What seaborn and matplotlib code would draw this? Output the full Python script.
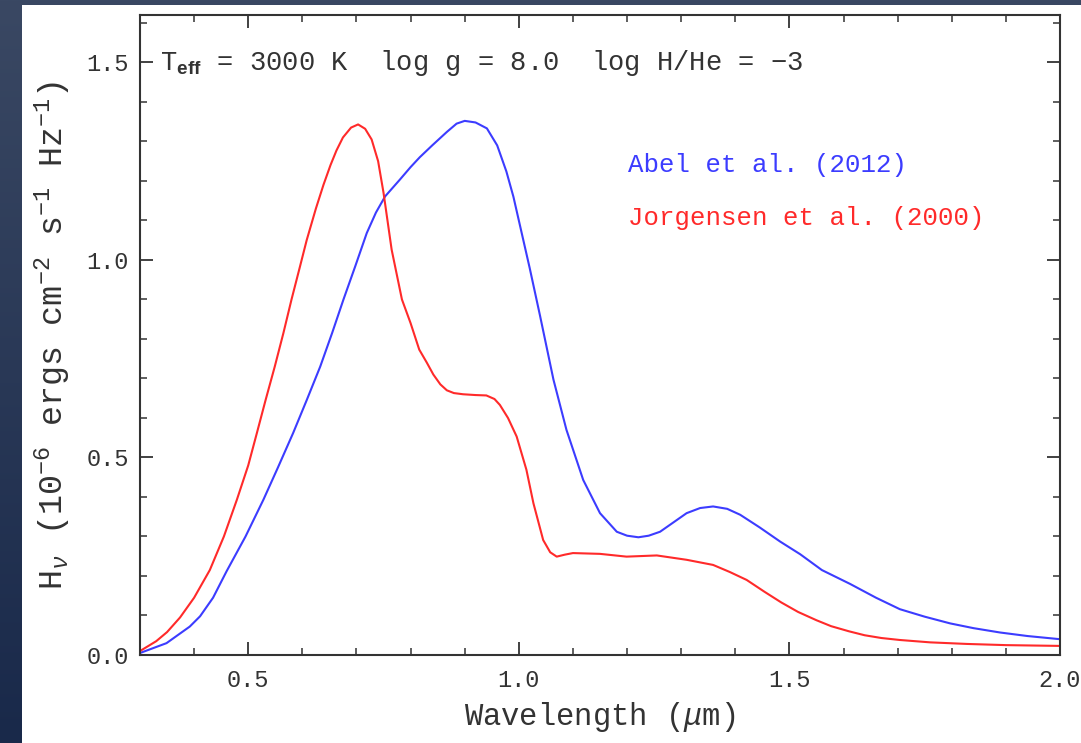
import numpy as np
import pandas as pd
import matplotlib
matplotlib.use("Agg")
import matplotlib.pyplot as plt
import seaborn as sns
from matplotlib.ticker import MultipleLocator
from matplotlib.colors import LinearSegmentedColormap

# ---- data ----
jorg_wave = [0.300, 0.330, 0.350, 0.374, 0.400, 0.429, 0.455, 0.479, 0.500, 0.516,
             0.532, 0.549, 0.565, 0.580, 0.595, 0.608, 0.625, 0.639, 0.652, 0.663,
             0.675, 0.690, 0.703, 0.716, 0.728, 0.740, 0.750, 0.765, 0.784, 0.800,
             0.816, 0.830, 0.842, 0.855, 0.867, 0.880, 0.897, 0.920, 0.940, 0.955,
             0.965, 0.980, 0.996, 1.014, 1.027, 1.045, 1.058, 1.070, 1.085, 1.100,
             1.150, 1.199, 1.255, 1.310, 1.359, 1.390, 1.421, 1.454, 1.485, 1.516,
             1.550, 1.577, 1.610, 1.639, 1.670, 1.704, 1.760, 1.828, 1.900, 2.000]
jorg_flux = [0.010, 0.035, 0.058, 0.095, 0.145, 0.215, 0.300, 0.393, 0.480, 0.562,
             0.645, 0.730, 0.815, 0.900, 0.980, 1.050, 1.130, 1.190, 1.240, 1.277,
             1.310, 1.335, 1.343, 1.332, 1.305, 1.250, 1.170, 1.026, 0.900, 0.840,
             0.773, 0.740, 0.710, 0.685, 0.670, 0.663, 0.660, 0.658, 0.657, 0.648,
             0.633, 0.600, 0.553, 0.469, 0.384, 0.291, 0.260, 0.249, 0.254, 0.258,
             0.256, 0.249, 0.252, 0.241, 0.228, 0.210, 0.190, 0.160, 0.133, 0.109,
             0.088, 0.073, 0.060, 0.050, 0.043, 0.038, 0.032, 0.028, 0.025, 0.023]

abel_wave = [0.300, 0.349, 0.392, 0.411, 0.435, 0.460, 0.495, 0.528, 0.555, 0.583,
             0.608, 0.633, 0.655, 0.676, 0.698, 0.719, 0.736, 0.753, 0.780, 0.800,
             0.817, 0.840, 0.867, 0.885, 0.900, 0.920, 0.941, 0.960, 0.977, 0.990,
             1.002, 1.020, 1.039, 1.064, 1.088, 1.119, 1.150, 1.181, 1.200, 1.221,
             1.240, 1.261, 1.285, 1.310, 1.335, 1.359, 1.385, 1.409, 1.445, 1.483,
             1.520, 1.560, 1.612, 1.660, 1.704, 1.750, 1.797, 1.840, 1.889, 1.940,
             2.000]
abel_flux = [0.005, 0.030, 0.072, 0.098, 0.145, 0.212, 0.300, 0.393, 0.475, 0.562,
             0.645, 0.730, 0.815, 0.900, 0.985, 1.068, 1.120, 1.161, 1.203, 1.235,
             1.260, 1.290, 1.324, 1.345, 1.352, 1.348, 1.333, 1.290, 1.224, 1.160,
             1.088, 0.980, 0.860, 0.697, 0.570, 0.443, 0.359, 0.312, 0.302, 0.298,
             0.302, 0.312, 0.335, 0.359, 0.372, 0.376, 0.370, 0.355, 0.323, 0.287,
             0.255, 0.215, 0.180, 0.145, 0.116, 0.097, 0.080, 0.068, 0.057, 0.048,
             0.040]

series_labels = ["Abel et al. (2012)", "Jorgensen et al. (2000)"]
series_colors = ["#3c3cff", "#ff2a2a"]

df = pd.concat([
    pd.DataFrame({"wave": abel_wave, "flux": abel_flux, "src": series_labels[0]}),
    pd.DataFrame({"wave": jorg_wave, "flux": jorg_flux, "src": series_labels[1]}),
])

sns.set_style("ticks")
plt.rcParams["font.family"] = ["Liberation Mono", "DejaVu Sans"]
plt.rcParams["mathtext.fontset"] = "custom"
plt.rcParams["mathtext.rm"] = "Liberation Mono"
plt.rcParams["mathtext.it"] = "Liberation Mono:italic"
plt.rcParams["mathtext.bf"] = "Liberation Sans:bold"
plt.rcParams["lines.solid_joinstyle"] = "round"

W, H = 1081, 743
fig = plt.figure(figsize=(W / 100, H / 100), dpi=100)

# slide-like dark background with gradient
bg = fig.add_axes([0, 0, 1, 1], zorder=-10)
grad = np.linspace(0, 1, 256).reshape(-1, 1)
cmap = LinearSegmentedColormap.from_list("bg", ["#3a4863", "#19294a"])
bg.imshow(grad, aspect="auto", cmap=cmap, extent=[0, 1, 0, 1], origin="upper")
bg.axis("off")
white = plt.Rectangle((22 / W, 0), 1, (H - 5) / H, transform=fig.transFigure,
                      facecolor="white", edgecolor="none", zorder=-5)
fig.patches.append(white)

ax = fig.add_axes([140 / W, (H - 655) / H, 920 / W, 640 / H])
ax.set_facecolor("white")
sns.lineplot(data=df, x="wave", y="flux", hue="src", palette=series_colors,
             hue_order=series_labels, ax=ax, linewidth=1.5, legend=False, sort=False)

ax.set_xlim(0.3, 2.0)
ax.set_ylim(0, 1.62)
ax.xaxis.set_major_locator(MultipleLocator(0.5))
ax.xaxis.set_minor_locator(MultipleLocator(0.1))
ax.yaxis.set_major_locator(MultipleLocator(0.5))
ax.yaxis.set_minor_locator(MultipleLocator(0.1))
ax.tick_params(which="both", direction="in", top=True, right=True,
               color="#333333", labelcolor="#333333", labelsize=17)
ax.tick_params(which="major", length=9.5, width=1.3)
ax.tick_params(which="minor", length=5, width=1.1)
ax.tick_params(axis="x", which="major", pad=10)
ax.tick_params(axis="y", which="major", pad=8)
ax.set_xticks([0.5, 1.0, 1.5, 2.0])
ax.set_xticklabels(["0.5", "1.0", "1.5", "2.0"])
ax.set_yticks([0.0, 0.5, 1.0, 1.5])
ax.set_yticklabels(["0.0", "0.5", "1.0", "1.5"])
for s in ax.spines.values():
    s.set_linewidth(1.5)
    s.set_color("#333333")

ax.set_xlabel(r"Wavelength ($\mu$m)", fontsize=22, color="#333333", labelpad=6)
ax.set_ylabel(r"H$_\nu$ (10$^{-6}$ ergs cm$^{-2}$ s$^{-1}$ Hz$^{-1}$)",
              fontsize=24, color="#333333", labelpad=10)

ax.text(0.022, 0.925, r"T$_{\mathbf{eff}}$ = 3000 K  log g = 8.0  log H/He = $-$3",
        transform=ax.transAxes, fontsize=19.5, color="#333333", va="center", ha="left")
ax.text(0.530, 0.766, series_labels[0], transform=ax.transAxes, fontsize=18.5,
        color=series_colors[0], va="center", ha="left")
ax.text(0.530, 0.683, series_labels[1], transform=ax.transAxes, fontsize=18.5,
        color=series_colors[1], va="center", ha="left")

fig.savefig("out.png", dpi=100)
